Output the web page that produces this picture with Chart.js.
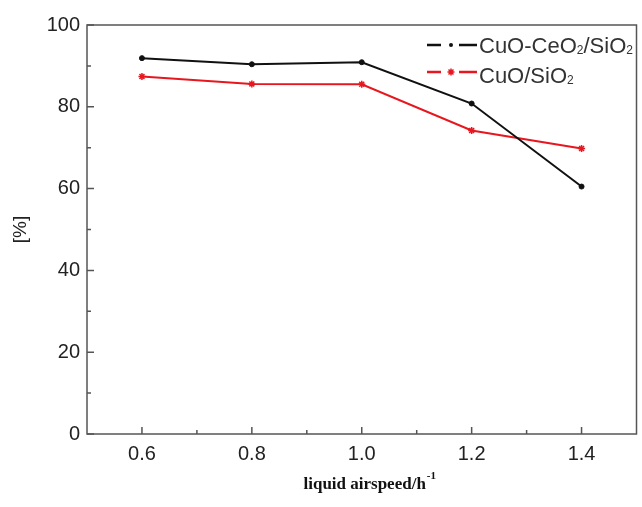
<!DOCTYPE html>
<html><head><meta charset="utf-8">
<script src="https://cdn.jsdelivr.net/npm/chart.js@4.4.1/dist/chart.umd.min.js"></script>
<style>html,body{margin:0;padding:0;background:#fff}#wrap{width:642px;height:507px}</style>
</head><body><div id="wrap"><canvas id="c" width="642" height="507"></canvas></div>
<script>
const airspeed = [0.6, 0.8, 1.0, 1.2, 1.4];
const cuoCeo2 = [91.9, 90.4, 90.9, 80.8, 60.5];
const cuo = [87.4, 85.6, 85.5, 74.2, 69.8];
const xTicks = [0.6, 0.8, 1.0, 1.2, 1.4];
const xMinor = [0.7, 0.9, 1.1, 1.3];
const yTicks = [0, 20, 40, 60, 80, 100];
const yMinor = [10, 30, 50, 70, 90];
const seriesNames = ['CuO-CeO\u2082/SiO\u2082', 'CuO/SiO\u2082'];
// legend label pieces: [text, isSubscript]
const legendParts = [
  [['CuO-CeO', false], ['2', true], ['/SiO', false], ['2', true]],
  [['CuO/SiO', false], ['2', true]]
];
const xTitle = 'liquid airspeed/h';
const xTitleSup = '-1';
const yTitle = '[%]';

const BLACK = '#111111', RED = '#e8161e', AX = '#555555';

const framePlugin = {
  id: 'frame',
  afterDraw(chart) {
    const {ctx, chartArea: a, scales: {x, y}} = chart;
    ctx.save();
    ctx.strokeStyle = AX; ctx.lineWidth = 1.5;
    ctx.strokeRect(a.left, a.top, a.right - a.left, a.bottom - a.top);
    ctx.beginPath();
    xTicks.forEach(v => { const p = x.getPixelForValue(v); ctx.moveTo(p, a.bottom); ctx.lineTo(p, a.bottom - 7); });
    xMinor.forEach(v => { const p = x.getPixelForValue(v); ctx.moveTo(p, a.bottom); ctx.lineTo(p, a.bottom - 4); });
    yTicks.forEach(v => { const p = y.getPixelForValue(v); ctx.moveTo(a.left, p); ctx.lineTo(a.left + 7, p); });
    yMinor.forEach(v => { const p = y.getPixelForValue(v); ctx.moveTo(a.left, p); ctx.lineTo(a.left + 4, p); });
    ctx.stroke();
    // x title with superscript
    ctx.fillStyle = '#111';
    ctx.textBaseline = 'alphabetic';
    ctx.textAlign = 'left';
    ctx.font = 'bold 17px "Liberation Serif"';
    const w = ctx.measureText(xTitle).width;
    ctx.font = 'bold 11px "Liberation Serif"';
    const ws = ctx.measureText(xTitleSup).width;
    const cx = (a.left + a.right) / 2 + 8;
    const sx = cx - (w + ws + 1) / 2;
    ctx.font = 'bold 17px "Liberation Serif"';
    ctx.fillText(xTitle, sx, 489);
    ctx.font = 'bold 11px "Liberation Serif"';
    ctx.fillText(xTitleSup, sx + w + 1, 479);
    // legend
    const items = [{c: BLACK, style: 'circle', r: 2, y: 45, ty: 45}, {c: RED, style: 'star', r: 3.5, y: 72, ty: 75}];
    items.forEach((it, i) => {
      ctx.strokeStyle = it.c; ctx.lineWidth = 2.5;
      ctx.beginPath();
      ctx.moveTo(427, it.y); ctx.lineTo(441, it.y);
      ctx.moveTo(459, it.y); ctx.lineTo(477, it.y);
      ctx.stroke();
      ctx.fillStyle = it.c;
      if (it.style === 'circle') { ctx.beginPath(); ctx.arc(451, it.y, it.r, 0, Math.PI * 2); ctx.fill(); }
      else { ctx.lineWidth = 1.5; Chart.helpers.drawPoint(ctx, {pointStyle: 'star', radius: it.r, borderWidth: 1.5}, 451, it.y); }
      ctx.fillStyle = '#333';
      ctx.textBaseline = 'alphabetic';
      let px = 479;
      const base = it.ty + 8;
      legendParts[i].forEach(([t, sub]) => {
        ctx.font = sub ? '12px "Liberation Sans"' : '22px "Liberation Sans"';
        ctx.fillText(t, px, sub ? base + 1 : base);
        px += ctx.measureText(t).width + (sub ? 0 : 0);
      });
    });
    ctx.restore();
  }
};

new Chart(document.getElementById('c'), {
  type: 'line',
  data: {
    datasets: [
      {label: seriesNames[0], data: airspeed.map((v, i) => ({x: v, y: cuoCeo2[i]})),
       borderColor: BLACK, backgroundColor: BLACK, borderWidth: 2, pointStyle: 'circle', pointRadius: 2.5, pointBorderWidth: 1},
      {label: seriesNames[1], data: airspeed.map((v, i) => ({x: v, y: cuo[i]})),
       borderColor: RED, backgroundColor: RED, borderWidth: 2, pointStyle: 'star', pointRadius: 3.5, pointBorderWidth: 1.5}
    ]
  },
  options: {
    responsive: false, animation: false, devicePixelRatio: 1,
    layout: {padding: {left: 0, right: 3, top: 25, bottom: 0}},
    plugins: {legend: {display: false}, tooltip: {enabled: false}},
    elements: {line: {tension: 0}},
    scales: {
      x: {type: 'linear', min: 0.5, max: 1.5,
          afterBuildTicks: s => { s.ticks = xTicks.map(v => ({value: v})); },
          afterFit: s => { s.height = 73; },
          grid: {display: false, drawTicks: false}, border: {display: false},
          ticks: {padding: 8, color: '#222', font: {family: 'Liberation Sans', size: 20}, callback: v => Number(v).toFixed(1), maxRotation: 0}},
      y: {min: 0, max: 100,
          afterBuildTicks: s => { s.ticks = yTicks.map(v => ({value: v})); },
          afterFit: s => { s.width = 87; },
          grid: {display: false, drawTicks: false}, border: {display: false},
          title: {display: true, text: yTitle, color: '#222', font: {family: 'Liberation Sans', size: 19}, padding: {top: 9, bottom: 0}},
          ticks: {padding: 7, color: '#222', font: {family: 'Liberation Sans', size: 20}}}
    }
  },
  plugins: [framePlugin]
});
</script></body></html>
